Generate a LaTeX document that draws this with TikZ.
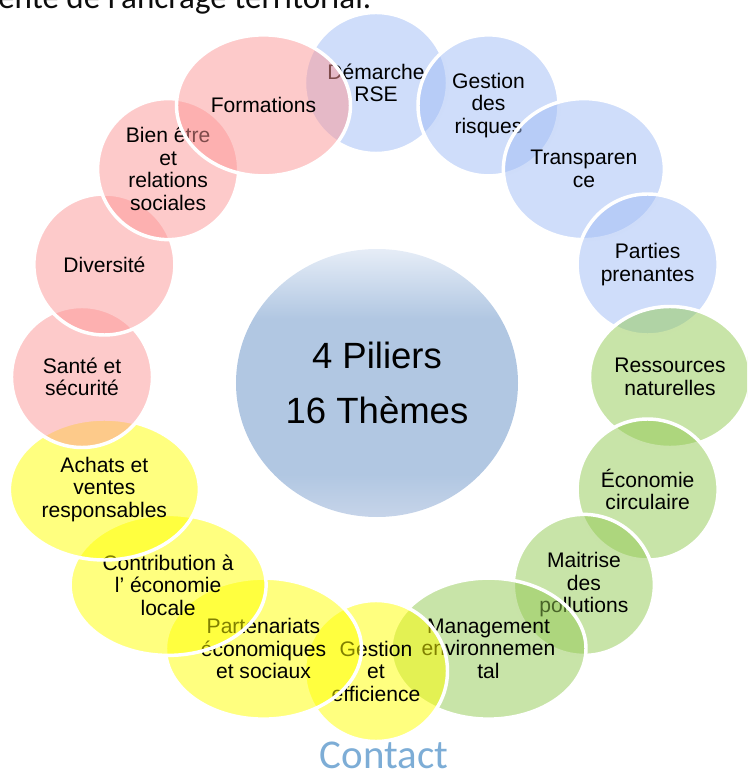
\documentclass[tikz,border=0pt]{standalone}
\usepackage{fontspec}
\setmainfont{Liberation Sans}
\newfontfamily\calibrifont{Carlito}
\usetikzlibrary{shapes.geometric}

\definecolor{pilierBlue}{RGB}{159,187,245}
\definecolor{pilierGreen}{RGB}{146,201,82}
\definecolor{pilierYellow}{RGB}{255,255,0}
\definecolor{pilierPink}{RGB}{252,150,150}
\definecolor{coreTop}{RGB}{230,237,247}
\definecolor{coreMid}{RGB}{177,199,226}
\definecolor{coreBot}{RGB}{198,212,233}
\definecolor{contactBlue}{RGB}{125,173,214}
\definecolor{titleGrey}{RGB}{13,13,13}
\pgfdeclareverticalshading{coreshade}{100bp}{color(0bp)=(coreBot); color(25bp)=(coreBot);
  color(33bp)=(coreMid); color(62bp)=(coreMid); color(75bp)=(coreTop); color(100bp)=(coreTop)}
\newcommand{\themefont}{\fontsize{15.8}{16.9}\selectfont}

\begin{document}
\begin{tikzpicture}[x=0.75pt,y=0.75pt,
  theme/.style={ellipse,draw=white,line width=2.6pt,preaction={fill=#1,fill opacity=0.5},
                minimum height=105.75pt,inner sep=0pt,align=center,font=\themefont},
  core/.style={ellipse,shading=coreshade,minimum width=211.5pt,minimum height=201pt,
               inner sep=0pt,align=center,font=\fontsize{27.4}{40.7}\selectfont}]
  \clip (-376,-393) rectangle (371,377);
  \node[anchor=base west,inner sep=0pt,text=titleGrey,
        font=\calibrifont\fontsize{24.8}{29}\selectfont] (title) at (-378,368) {ente de l’ancrage territorial.};
  \node[core] (core) at (1,-6) {4 Piliers\\16 Thèmes};
  % ring of the 16 themes, drawn clockwise from the top
  \foreach \ang/\wid/\col/\txt [count=\i] in {
      90/143/pilierBlue/{Démarche\\RSE},
      67.5/141/pilierBlue/{Gestion\\des\\risques},
      45/161/pilierBlue/{Transparen\\ce},
      22.5/141/pilierBlue/{Parties\\prenantes},
      0/161/pilierGreen/{Ressources\\naturelles},
      -22.5/141/pilierGreen/{Économie\\circulaire},
      -45/141/pilierGreen/{Maitrise\\des\\pollutions},
      -67.5/195/pilierGreen/{Management\\environnemen\\tal},
      -90/143/pilierYellow/{Gestion\\et\\efficience},
      -112.5/196/pilierYellow/{Partenariats\\économiques\\et sociaux},
      -135/196/pilierYellow/{Contribution à\\l’ économie\\locale},
      -157.5/190/pilierYellow/{Achats et\\ventes\\responsables},
      180/141/pilierPink/{Santé et\\sécurité},
      157.5/141/pilierPink/{Diversité},
      135/141/pilierPink/{Bien être\\et\\relations\\sociales},
      112.5/174/pilierPink/{Formations}}
    \node[theme=\col,minimum width={\wid*0.75pt}] (t\i) at (\ang:294) {\txt};
  \node[anchor=base,inner sep=0pt,text=contactBlue,
        font=\calibrifont\fontsize{30.7}{36}\selectfont] (contact) at (8,-391) {Contact};
\end{tikzpicture}
\end{document}
